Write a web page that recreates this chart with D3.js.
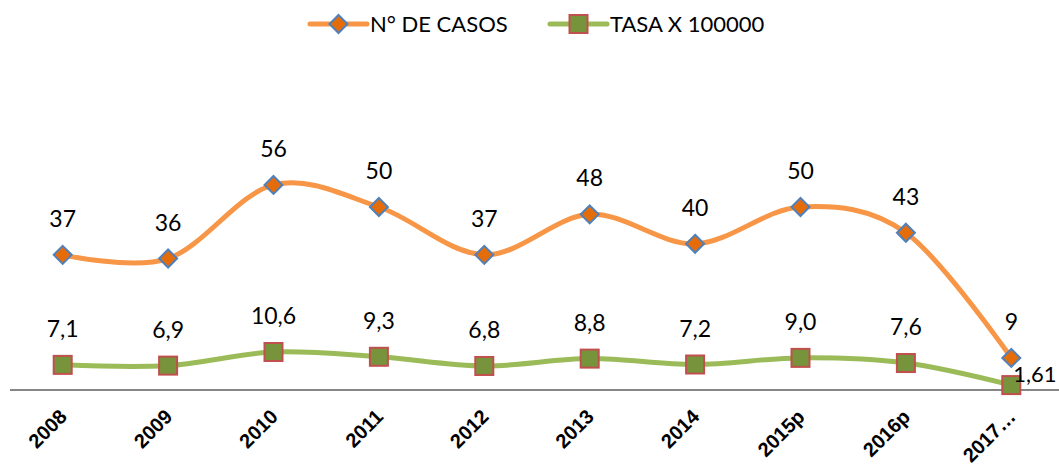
<!DOCTYPE html>
<html><head><meta charset="utf-8">
<script src="https://cdn.jsdelivr.net/npm/d3@7"></script>
<style>body{margin:0;background:#fff}svg{display:block}</style>
</head><body>
<script>
const categories = ["2008","2009","2010","2011","2012","2013","2014","2015p","2016p","2017…"];
const casos = [37,36,56,50,37,48,40,50,43,9];
const casosLabels = ["37","36","56","50","37","48","40","50","43","9"];
const tasa = [7.1,6.9,10.6,9.3,6.8,8.8,7.2,9.0,7.6,1.61];
const tasaLabels = ["7,1","6,9","10,6","9,3","6,8","8,8","7,2","9,0","7,6","1,61"];
const seriesNames = ["N° DE CASOS","TASA X 100000"];

const W=1059,H=466;
const svg=d3.select("body").append("svg").attr("width",W).attr("height",H);
const x=d3.scalePoint().domain(categories).range([10,1064]).padding(0.5);
const y=d3.scaleLinear().domain([0,100]).range([391,23]);
const font="Lato, 'Open Sans', sans-serif";

// axis
const ax=svg.append("g").attr("transform","translate(0,390)").call(d3.axisBottom(x).tickSize(0).tickPadding(0));
ax.select(".domain").attr("stroke","#868686").attr("stroke-width",2).attr("d","M10,0H1059");
ax.selectAll("text").attr("font-family","'Liberation Sans', Arial, sans-serif").attr("font-weight","bold")
  .attr("font-size",20).attr("fill","#000").attr("text-anchor","end").attr("dy",0)
  .attr("transform","translate(5,28) rotate(-45)");

const line=d3.line().x((d,i)=>x(categories[i])).y(d=>y(d)).curve(d3.curveCardinal.tension(0));

const sets=[
 {vals:casos,labels:casosLabels,line:"#F79646",fill:"#E46C0A",stroke:"#4F81BD",shape:"diamond"},
 {vals:tasa,labels:tasaLabels,line:"#9BBB59",fill:"#77933C",stroke:"#C0504D",shape:"square"}
];
function marker(g,shape,fill,stroke){
  if(shape==="diamond") g.append("path").attr("d","M0,-9L9,0L0,9L-9,0Z").attr("fill",fill).attr("stroke",stroke).attr("stroke-width",2);
  else g.append("rect").attr("x",-9).attr("y",-9).attr("width",18).attr("height",18).attr("fill",fill).attr("stroke",stroke).attr("stroke-width",2);
}
sets.forEach(s=>{
  svg.append("path").datum(s.vals).attr("d",line).attr("fill","none").attr("stroke",s.line).attr("stroke-width",5).attr("stroke-linecap","round");
});
sets.forEach((s,si)=>{
  s.vals.forEach((v,i)=>{
    const g=svg.append("g").attr("transform",`translate(${x(categories[i])},${y(v)})`);
    marker(g,s.shape,s.fill,s.stroke);
  });
});
sets.forEach((s,si)=>{
  s.vals.forEach((v,i)=>{
    const last = si===1 && i===s.vals.length-1;
    svg.append("text").attr("x",x(categories[i])+(last?2:0)).attr("y",y(v)-(last?3:28))
      .attr("text-anchor",last?"start":"middle").attr("font-family",font).attr("font-size",last?22:23).attr("fill","#000")
      .text(s.labels[i]);
  });
});
// legend
const leg=[{x:310,tx:370},{x:550,tx:610}];
sets.forEach((s,i)=>{
  const g=svg.append("g");
  g.append("line").attr("x1",leg[i].x).attr("x2",leg[i].x+57).attr("y1",24).attr("y2",24).attr("stroke",s.line).attr("stroke-width",5).attr("stroke-linecap","round");
  const m=g.append("g").attr("transform",`translate(${leg[i].x+28.5},24)`);
  marker(m,s.shape,s.fill,s.stroke);
  g.append("text").attr("x",leg[i].tx).attr("y",24).attr("dy","0.35em").attr("font-family",font).attr("font-size",22).attr("fill","#000").text(seriesNames[i]);
});
</script>
</body></html>
